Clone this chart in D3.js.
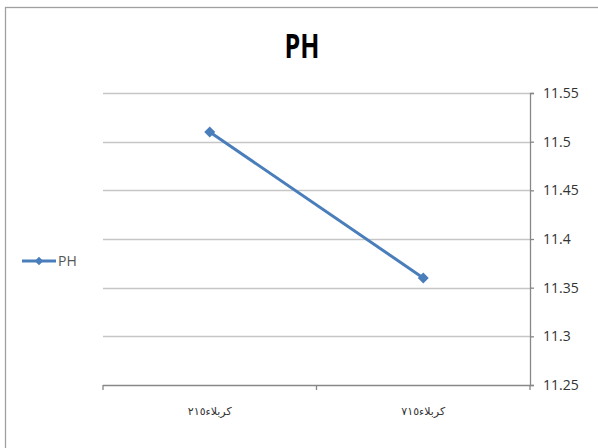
<!DOCTYPE html>
<html>
<head>
<meta charset="utf-8">
<script src="https://cdn.jsdelivr.net/npm/d3@7"></script>
<style>
  html, body { margin: 0; padding: 0; background: #fff; }
  svg { display: block; }
</style>
</head>
<body>
<svg id="chart" width="598" height="448"></svg>
<script>
// Chart data
const categories = ["کربلاء٢١٥", "کربلاء٧١٥"];
const phValues = [11.51, 11.36];
const yTicks = [11.25, 11.3, 11.35, 11.4, 11.45, 11.5, 11.55];
const seriesName = "PH";
const chartTitle = "PH";

const svg = d3.select("#chart");
const W = 598, H = 448;
const margin = { left: 103, right: 68, top: 93, bottom: 63 };
const plotW = W - margin.left - margin.right;
const plotH = H - margin.top - margin.bottom;

const blue = "#4a7ebb";
const gridColor = "#c6c6c6";
const axisColor = "#878787";

// Outer chart frame
svg.append("rect")
  .attr("x", 5.5).attr("y", 7.5)
  .attr("width", W + 10).attr("height", H + 10)
  .attr("fill", "none").attr("stroke", "#a0a0a0").attr("stroke-width", 1.3);

// Title (horizontally condensed)
svg.append("text")
  .attr("transform", "translate(302,58) scale(0.74,1)")
  .attr("text-anchor", "middle")
  .attr("font-family", "'Open Sans', sans-serif")
  .attr("font-weight", "bold")
  .attr("font-size", 34)
  .attr("fill", "#000")
  .text(chartTitle);

const g = svg.append("g").attr("transform", `translate(${margin.left},${margin.top})`);

const x = d3.scaleBand().domain(categories).range([0, plotW]).padding(0);
const y = d3.scaleLinear().domain([11.25, 11.55]).range([plotH, 0]);

// Horizontal gridlines
g.append("g")
  .selectAll("line")
  .data(yTicks.slice(1))
  .join("line")
  .attr("x1", 0).attr("x2", plotW)
  .attr("y1", d => Math.round(y(d)) + 0.5).attr("y2", d => Math.round(y(d)) + 0.5)
  .attr("stroke", gridColor).attr("stroke-width", 1.3);

// Right value axis
const yAxis = d3.axisRight(y).tickValues(yTicks).tickSize(4).tickPadding(9)
  .tickFormat(d => String(+d.toFixed(2)));
const yAxisG = g.append("g").attr("transform", `translate(${plotW},0)`).call(yAxis);
yAxisG.select(".domain").attr("stroke", axisColor).attr("stroke-width", 1.3);
yAxisG.selectAll(".tick line").attr("stroke", axisColor).attr("stroke-width", 1.3);
yAxisG.selectAll(".tick text")
  .attr("font-family", "'Open Sans', sans-serif")
  .attr("font-size", 14).attr("fill", "#333");

// Bottom category axis
const xAxisG = g.append("g").attr("transform", `translate(0,${plotH})`);
xAxisG.append("line")
  .attr("x1", 0).attr("x2", plotW).attr("y1", 0.5).attr("y2", 0.5)
  .attr("stroke", axisColor).attr("stroke-width", 1.3);
const bounds = [0, ...categories.map(c => x(c) + x.bandwidth())];
xAxisG.selectAll("line.tk")
  .data(bounds)
  .join("line").attr("class", "tk")
  .attr("x1", d => d).attr("x2", d => d)
  .attr("y1", 0).attr("y2", 5)
  .attr("stroke", axisColor).attr("stroke-width", 1.3);
xAxisG.selectAll("text")
  .data(categories)
  .join("text")
  .attr("x", d => x(d) + x.bandwidth() / 2)
  .attr("y", 30)
  .attr("text-anchor", "middle")
  .attr("direction", "rtl")
  .attr("font-family", "'DejaVu Sans', sans-serif")
  .attr("font-size", 11)
  .attr("fill", "#333")
  .text(d => d);

// Series line
const line = d3.line()
  .x((d, i) => x(categories[i]) + x.bandwidth() / 2)
  .y(d => y(d));
g.append("path")
  .datum(phValues)
  .attr("d", line)
  .attr("fill", "none")
  .attr("stroke", blue)
  .attr("stroke-width", 3);

// Diamond markers (rotated squares)
const diamond = d3.symbol().type(d3.symbolSquare).size(60);
g.selectAll("path.marker")
  .data(phValues)
  .join("path").attr("class", "marker")
  .attr("d", diamond)
  .attr("transform", (d, i) => `translate(${x(categories[i]) + x.bandwidth() / 2},${y(d)}) rotate(45)`)
  .attr("fill", blue);

// Legend
const lg = svg.append("g").attr("transform", "translate(22,261)");
lg.append("line").attr("x1", 0).attr("x2", 34).attr("y1", 0).attr("y2", 0)
  .attr("stroke", blue).attr("stroke-width", 3);
lg.append("path").attr("d", d3.symbol().type(d3.symbolSquare).size(36))
  .attr("transform", "translate(17,0) rotate(45)").attr("fill", blue);
lg.append("text").attr("x", 36).attr("y", 5)
  .attr("font-family", "'Open Sans', sans-serif")
  .attr("font-size", 14).attr("fill", "#555")
  .text(seriesName);
</script>
</body>
</html>
